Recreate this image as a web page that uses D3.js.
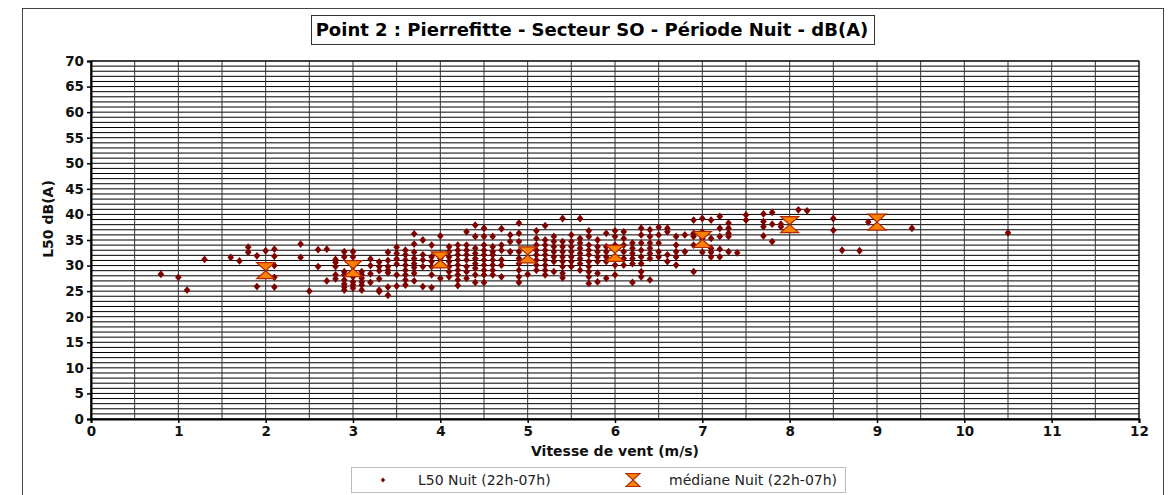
<!DOCTYPE html>
<html>
<head>
<meta charset="utf-8">
<script src="https://cdn.jsdelivr.net/npm/d3@7/dist/d3.min.js"></script>
<style>
  html, body { margin: 0; padding: 0; background: #fff; }
  svg { display: block; font-family: "DejaVu Sans", sans-serif; }
</style>
</head>
<body>
<svg id="chart" width="1169" height="495"></svg>
<script>
// Wind speed classes (m/s) of the L50 night measurements, and the levels (dB(A)) found at each speed
const vitessesL50 = [0.8, 1.0, 1.1, 1.3, 1.6, 1.7, 1.8, 1.9, 2.0, 2.1, 2.4, 2.5, 2.6, 2.7, 2.8, 2.9,
  3.0, 3.1, 3.2, 3.3, 3.4, 3.5, 3.6, 3.7, 3.8, 3.9, 4.0, 4.1, 4.2, 4.3, 4.4, 4.5, 4.6, 4.7, 4.8, 4.9,
  5.0, 5.1, 5.2, 5.3, 5.4, 5.5, 5.6, 5.7, 5.8, 5.9, 6.0, 6.1, 6.2, 6.3, 6.4, 6.5, 6.6, 6.7, 6.8, 6.9,
  7.0, 7.1, 7.2, 7.3, 7.4, 7.5, 7.7, 7.8, 7.9, 8.1, 8.2, 8.5, 8.6, 8.8, 8.9, 9.4, 10.5];

const niveauxL50 = [
  [28.3], [27.7], [25.2], [31.2], [31.6], [30.9], [33.6, 32.6], [31.9, 25.9], [32.9],
  [33.2, 31.8, 30.0, 27.7, 25.8],
  [34.2, 31.6], [25.0], [33.1, 29.8], [33.2, 27.0],
  [31.2, 30.6, 29.8, 28.2, 27.4],
  [32.7, 31.7, 28.8, 28.2, 27.2, 26.4, 25.8, 25.2],
  [32.7, 31.7, 29.8, 28.8, 27.8, 26.8, 26.2, 25.6],
  [28.8, 28.2, 27.5, 26.8, 26.2, 25.2],
  [31.3, 30.0, 28.4, 26.7],
  [30.7, 29.8, 29.0, 27.4, 25.2, 24.9],
  [32.6, 31.0, 29.8, 29.1, 28.6, 25.8, 24.2],
  [33.6, 32.4, 31.3, 30.3, 28.2, 26.0],
  [33.0, 32.1, 31.1, 30.1, 29.1, 28.2, 27.2, 26.2],
  [36.2, 34.2, 32.6, 31.4, 30.4, 29.6, 28.5, 27.0],
  [35.0, 32.1, 31.1, 29.8, 25.9],
  [34.0, 31.7, 30.8, 29.8, 28.2, 25.7],
  [35.8, 31.4, 27.5],
  [33.7, 32.7, 31.7, 30.8, 29.8, 28.8, 27.8],
  [34.0, 33.0, 32.1, 31.1, 30.1, 29.1, 28.2, 27.2, 26.1],
  [36.6, 34.0, 33.0, 32.1, 31.1, 29.8, 28.8, 27.5],
  [37.9, 35.7, 33.4, 32.4, 31.4, 30.4, 29.5, 28.2, 26.7],
  [37.3, 35.7, 34.0, 33.0, 32.1, 31.1, 30.1, 29.1, 28.2, 26.7],
  [35.7, 33.7, 32.7, 32.1, 31.1, 30.1, 29.1, 28.2],
  [37.2, 34.0, 33.0, 31.1, 30.1, 27.8],
  [36.0, 34.7, 32.7],
  [38.3, 36.3, 34.7, 32.7, 31.4, 30.4, 29.1, 27.8, 26.7],
  [28.3],
  [36.8, 35.3, 34.0, 33.0, 32.1, 31.1, 30.1, 29.1],
  [37.8, 35.0, 34.0, 33.0, 32.1, 31.1, 30.1, 29.1, 28.2],
  [35.7, 34.7, 33.7, 32.7, 31.7, 30.8, 28.8],
  [39.2, 34.7, 33.7, 32.7, 31.7, 30.8, 29.8, 28.5, 27.6],
  [36.0, 34.7, 33.7, 32.7, 31.7, 30.8, 29.8],
  [39.2, 35.3, 34.4, 33.4, 32.4, 31.4, 30.4, 29.1],
  [36.8, 35.7, 34.0, 33.0, 32.1, 30.8, 29.8, 28.8, 27.8, 26.5],
  [35.0, 33.7, 32.7, 31.7, 30.8, 28.5, 26.8],
  [36.3, 33.7, 32.7, 31.7, 30.8, 27.5],
  [36.8, 35.7, 34.0, 31.7, 30.1, 28.2],
  [36.6, 35.3, 34.0, 32.7, 31.4, 30.1],
  [34.4, 33.4, 32.4, 31.4, 30.4, 26.7],
  [37.3, 36.0, 34.4, 33.0, 31.7, 30.4, 28.8, 27.8],
  [37.0, 35.7, 34.4, 33.4, 32.4, 31.4, 27.2],
  [37.5, 36.0, 34.4, 32.7, 31.7],
  [37.3, 36.6, 32.1, 30.8],
  [35.7, 34.0, 32.7, 31.7, 30.1],
  [36.0, 32.7],
  [38.9, 36.3, 35.7, 34.0, 28.8],
  [39.2, 36.6, 35.3, 34.4, 32.6],
  [38.9, 35.3, 33.4, 32.6, 31.7],
  [39.6, 37.3, 35.7, 33.2, 31.7],
  [38.3, 37.3, 36.3, 35.7, 32.7],
  [32.5],
  [39.9, 38.9],
  [40.1, 38.6, 37.6, 35.8],
  [40.4, 38.1, 34.7],
  [38.1, 37.6],
  [40.9], [40.7], [39.2, 36.9], [33.0], [32.9], [38.5], [37.3], [36.4]
];

// Median level per integer wind speed
const vitessesMediane = [2, 3, 4, 5, 6, 7, 8, 9];
const niveauxMediane = [29.0, 29.4, 31.1, 32.1, 32.4, 35.1, 38.0, 38.5];

// Axis ticks
const ticksX = [0, 1, 2, 3, 4, 5, 6, 7, 8, 9, 10, 11, 12];
const ticksY = [0, 5, 10, 15, 20, 25, 30, 35, 40, 45, 50, 55, 60, 65, 70];

const titre = "Point 2 : Pierrefitte - Secteur SO - Période Nuit - dB(A)";
const titreX = "Vitesse de vent (m/s)";
const titreY = "L50 dB(A)";
const legendeL50 = "L50 Nuit (22h-07h)";
const legendeMediane = "médiane Nuit (22h-07h)";

const svg = d3.select("#chart");

const plot = { left: 91, right: 1139, top: 61, bottom: 419 };
const x = d3.scaleLinear().domain([0, 12]).range([plot.left, plot.right]);
const y = d3.scaleLinear().domain([0, 70]).range([plot.bottom, plot.top]);

// Outer chart frame
svg.append("rect")
  .attr("x", 22.5).attr("y", 8.5)
  .attr("width", 1141).attr("height", 520)
  .attr("fill", "#fff").attr("stroke", "#444").attr("stroke-width", 1);

// Horizontal grid: every 1 dB
const grid = svg.append("g");
grid.selectAll("line.h")
  .data(d3.range(0, 71))
  .join("line")
  .attr("x1", plot.left).attr("x2", plot.right)
  .attr("y1", d => y(d)).attr("y2", d => y(d))
  .attr("stroke", "#000").attr("stroke-width", 1);

// Vertical grid: every 0.5 m/s
grid.selectAll("line.v")
  .data(d3.range(0, 24.5).map(i => i * 0.5))
  .join("line")
  .attr("y1", plot.top).attr("y2", plot.bottom)
  .attr("x1", d => x(d)).attr("x2", d => x(d))
  .attr("stroke", "#333").attr("stroke-width", 1);

// Plot border
svg.append("rect")
  .attr("x", plot.left).attr("y", plot.top)
  .attr("width", plot.right - plot.left).attr("height", plot.bottom - plot.top)
  .attr("fill", "none").attr("stroke", "#000").attr("stroke-width", 1);

// Axes
const axisX = d3.axisBottom(x).tickValues(ticksX).tickSize(4).tickPadding(3).tickFormat(d3.format("d"));
const axisY = d3.axisLeft(y).tickValues(ticksY).tickSize(4).tickPadding(3).tickFormat(d3.format("d"));

const gx = svg.append("g").attr("transform", `translate(0,${plot.bottom})`).call(axisX);
const gy = svg.append("g").attr("transform", `translate(${plot.left},0)`).call(axisY);
[gx, gy].forEach(g => {
  g.select(".domain").attr("stroke", "#000").attr("stroke-width", 2);
  g.selectAll(".tick line").attr("stroke", "#000").attr("stroke-width", 1.5);
  g.selectAll(".tick text")
    .attr("fill", "#111")
    .style("font-family", "'DejaVu Sans', sans-serif")
    .style("font-size", "13.5px")
    .style("font-weight", "bold");
});

// Axis titles
svg.append("text")
  .attr("x", 615).attr("y", 456)
  .attr("text-anchor", "middle")
  .style("font-size", "14px").style("font-weight", "bold").attr("fill", "#111")
  .text(titreX);

svg.append("text")
  .attr("transform", "translate(53,219) rotate(-90)")
  .attr("text-anchor", "middle")
  .style("font-size", "14px").style("font-weight", "bold").attr("fill", "#111")
  .text(titreY);

// Title in its box
const titreG = svg.append("g");
const tTitre = titreG.append("text")
  .attr("x", 592).attr("y", 36)
  .attr("text-anchor", "middle")
  .style("font-size", "18px").style("font-weight", "bold").attr("fill", "#000")
  .text(titre);
const wT = tTitre.node().getComputedTextLength();
titreG.insert("rect", "text")
  .attr("x", Math.round(592 - wT / 2 - 5) + 0.5).attr("y", 15.5)
  .attr("width", Math.round(wT + 10)).attr("height", 29)
  .attr("fill", "#fff").attr("stroke", "#333").attr("stroke-width", 1);

// Markers
const diamant = "M0,-3.9L3.3,0L0,3.9L-3.3,0Z";
const sablier = (w, h) => `M${-w},${-h}L${w},${-h}L0,0Z M0,0L${w},${h}L${-w},${h}Z`;

const pointsL50 = vitessesL50.flatMap((v, i) => niveauxL50[i].map(n => ({ v, n })));

svg.append("g").selectAll("path")
  .data(pointsL50)
  .join("path")
  .attr("d", diamant)
  .attr("transform", d => `translate(${x(d.v)},${y(d.n)})`)
  .attr("fill", "#800000");

svg.append("g").selectAll("path")
  .data(vitessesMediane.map((v, i) => ({ v, n: niveauxMediane[i] })))
  .join("path")
  .attr("d", sablier(9, 8))
  .attr("transform", d => `translate(${x(d.v)},${y(d.n)})`)
  .attr("fill", "#ff8000")
  .attr("stroke", "#b02800").attr("stroke-width", 1.2)
  .attr("stroke-linejoin", "miter");

// Legend
const leg = svg.append("g");
leg.append("rect")
  .attr("x", 351.5).attr("y", 467.5).attr("width", 494).attr("height", 25)
  .attr("fill", "#fff").attr("stroke", "#bbb");
leg.append("path").attr("d", "M0,-2.6L2.2,0L0,2.6L-2.2,0Z")
  .attr("transform", "translate(383,480)").attr("fill", "#800000");
leg.append("text").attr("x", 418).attr("y", 485)
  .style("font-size", "14px").attr("fill", "#222").text(legendeL50);
leg.append("path").attr("d", sablier(7, 6.5))
  .attr("transform", "translate(633,480)")
  .attr("fill", "#ff8000").attr("stroke", "#b02800").attr("stroke-width", 1.1);
leg.append("text").attr("x", 669).attr("y", 485)
  .style("font-size", "14px").attr("fill", "#222").text(legendeMediane);
</script>
</body>
</html>
